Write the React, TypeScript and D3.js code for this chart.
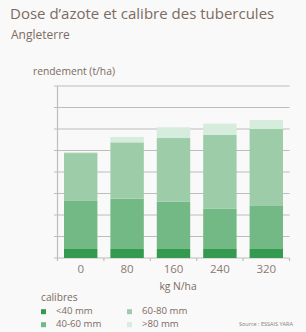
import React from "react";
import * as d3 from "d3";

const categories = ["0", "80", "160", "240", "320"];
const seriesKeys = ["<40 mm", "40-60 mm", "60-80 mm", ">80 mm"];
const lt40 = [0.42, 0.42, 0.42, 0.42, 0.42];
const c40to60 = [2.26, 2.34, 2.2, 1.87, 2.0];
const c60to80 = [2.2, 2.62, 2.96, 3.43, 3.58];
const gt80 = [0.05, 0.25, 0.5, 0.53, 0.42];
const gridTicks = [0, 1, 2, 3, 4, 5, 6, 7, 8];
const colors = ["#339a4f", "#72b985", "#9dcca8", "#d6ecdc"];

const W = 306;
const H = 332;
const left = 57.5;
const right = 289.5;
const top = 86;
const bottom = 258;
const textColor = "#7b6b61";
const font = "'Open Sans', sans-serif";

export default function App() {
  const rows = categories.map((c, i) => ({
    cat: c,
    [seriesKeys[0]]: lt40[i],
    [seriesKeys[1]]: c40to60[i],
    [seriesKeys[2]]: c60to80[i],
    [seriesKeys[3]]: gt80[i],
  }));
  const stack = d3.stack<any>().keys(seriesKeys)(rows);
  const x = d3
    .scaleBand<string>()
    .domain(categories)
    .range([left, right])
    .paddingInner(0.28)
    .paddingOuter(0.14);
  const y = d3.scaleLinear().domain([0, 8]).range([bottom, top]);
  const bandEdges = categories.map((c) => (x(c) as number) - x.step() * 0.14 + x.step());

  const legend = [
    { key: seriesKeys[0], col: 0, row: 0, color: colors[0] },
    { key: seriesKeys[2], col: 1, row: 0, color: colors[2] },
    { key: seriesKeys[1], col: 0, row: 1, color: colors[1] },
    { key: seriesKeys[3], col: 1, row: 1, color: colors[3] },
  ];

  return (
    <svg
      width={W}
      height={H}
      style={{ position: "fixed", top: 0, left: 0, display: "block", background: "#f9f9f9" }}
      fontFamily={font}
    >
      <rect x={0} y={0} width={W} height={H} fill="#f9f9f9" />
      <text x={10} y={18.5} fontSize={15} fill={textColor}>
        Dose d’azote et calibre des tubercules
      </text>
      <text x={11} y={39} fontSize={12} fill={textColor}>
        Angleterre
      </text>
      <text x={33} y={75} fontSize={10.3} fill={textColor}>
        rendement (t/ha)
      </text>
      {gridTicks.map((t) => (
        <line
          key={t}
          x1={left - 3.5}
          x2={right}
          y1={y(t)}
          y2={y(t)}
          stroke="#bdbdbd"
          strokeWidth={1.2}
        />
      ))}
      {stack.map((s, si) =>
        s.map((d, i) => (
          <rect
            key={si + "-" + i}
            x={x(categories[i])}
            width={x.bandwidth()}
            y={y(d[1])}
            height={y(d[0]) - y(d[1])}
            fill={colors[si]}
          />
        ))
      )}
      <line x1={left} x2={left} y1={top} y2={bottom + 3} stroke="#bdbdbd" strokeWidth={1.2} />
      {bandEdges.map((e, i) => (
        <line key={i} x1={e} x2={e} y1={bottom} y2={bottom + 3} stroke="#bdbdbd" strokeWidth={1.2} />
      ))}
      {categories.map((c) => (
        <text
          key={c}
          x={(x(c) as number) + x.bandwidth() / 2}
          y={273}
          fontSize={11.5}
          fill="#8a7b72"
          textAnchor="middle"
        >
          {c}
        </text>
      ))}
      <text x={178} y={289.5} fontSize={10.3} fill={textColor} textAnchor="middle">
        kg N/ha
      </text>
      <text x={41} y={300.5} fontSize={10.2} fill={textColor}>
        calibres
      </text>
      {legend.map((l) => (
        <g key={l.key} transform={`translate(${41 + l.col * 86},${309.2 + l.row * 13})`}>
          <rect x={0} y={0} width={5} height={5} fill={l.color} />
          <text x={15} y={5.2} fontSize={9.6} fill={textColor}>
            {l.key}
          </text>
        </g>
      ))}
      <text x={239} y={326} fontSize={5.5} fill="#8a7b72">
        Source : ESSAIS YARA
      </text>
    </svg>
  );
}
